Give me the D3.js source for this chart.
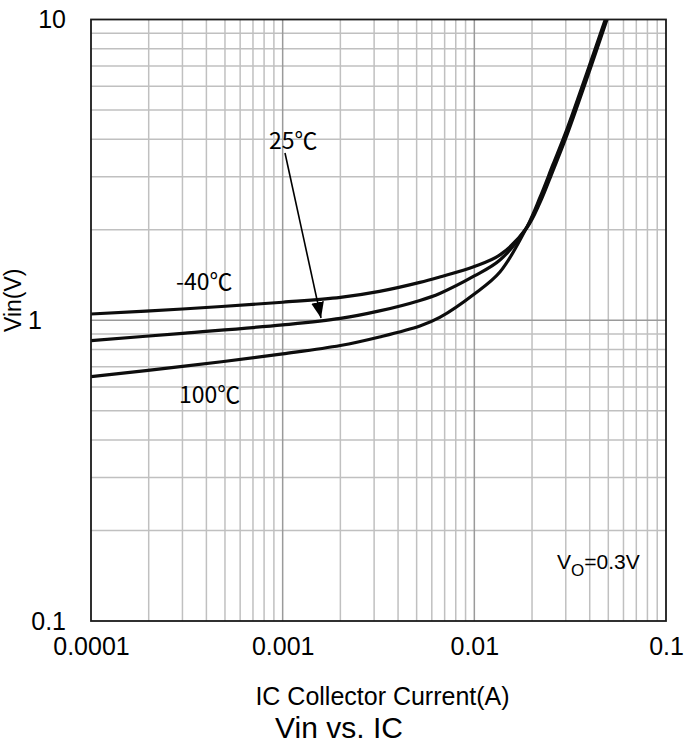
<!DOCTYPE html>
<html>
<head>
<meta charset="utf-8">
<script src="https://cdn.jsdelivr.net/npm/d3@7"></script>
<style>
  body { margin: 0; background: #fff; }
  svg text { font-family: "Liberation Sans", Arial, sans-serif; fill: #000; }
  .ann { font-family: "Noto Sans CJK JP", "DejaVu Sans", sans-serif; }
</style>
</head>
<body>
<svg id="chart" width="684" height="746"></svg>
<script>
// collector current (A) and input voltage (V) per temperature
const icM40 = [0.0001, 0.0003, 0.001, 0.002, 0.0032, 0.0052, 0.0066, 0.01, 0.0136, 0.0188, 0.022, 0.0257, 0.0303, 0.0385, 0.05];
const vinM40 = [1.049, 1.09, 1.148, 1.191, 1.247, 1.336, 1.393, 1.51, 1.649, 2.03, 2.46, 3.14, 4.10, 6.32, 10.3];
const ic25 = [0.0001, 0.0003, 0.001, 0.002, 0.0032, 0.0052, 0.0066, 0.01, 0.0136, 0.0188, 0.022, 0.0257, 0.0303, 0.0385, 0.05];
const vin25 = [0.855, 0.905, 0.965, 1.014, 1.074, 1.164, 1.228, 1.404, 1.586, 2.04, 2.51, 3.21, 4.19, 6.46, 10.5];
const ic100 = [0.0001, 0.0003, 0.001, 0.002, 0.0032, 0.0052, 0.0066, 0.01, 0.0136, 0.0188, 0.022, 0.0257, 0.0303, 0.0385, 0.05];
const vin100 = [0.649, 0.702, 0.773, 0.824, 0.880, 0.957, 1.022, 1.223, 1.447, 2.04, 2.56, 3.29, 4.29, 6.60, 10.7];

const xTicks = [0.0001, 0.001, 0.01, 0.1];
const yTicks = [0.1, 1, 10];
const seriesLabels = ["-40\u2103", "25\u2103", "100\u2103"];

const svg = d3.select("#chart");
const margin = { top: 19.5, right: 18, bottom: 125, left: 91 };
const width = +svg.attr("width") - margin.left - margin.right;
const height = +svg.attr("height") - margin.top - margin.bottom;

const g = svg.append("g")
    .attr("transform", "translate(" + margin.left + "," + margin.top + ")");

const x = d3.scaleLog().domain([0.0001, 0.1]).range([0, width]);
const y = d3.scaleLog().domain([0.1, 10]).range([height, 0]);

// minor + major grid
function gridValues(lo, hi) {
    const out = [];
    for (let e = Math.log10(lo); e < Math.log10(hi); e++) {
        for (let k = 2; k <= 9; k++) out.push(k * Math.pow(10, e));
    }
    return out;
}

g.append("g").selectAll("line")
    .data(gridValues(0.0001, 0.1))
    .enter().append("line")
    .attr("x1", d => x(d)).attr("x2", d => x(d))
    .attr("y1", 0).attr("y2", height)
    .attr("stroke", "#c0c0c0").attr("stroke-width", 1.5);

g.append("g").selectAll("line")
    .data(gridValues(0.1, 10))
    .enter().append("line")
    .attr("y1", d => y(d)).attr("y2", d => y(d))
    .attr("x1", 0).attr("x2", width)
    .attr("stroke", "#c0c0c0").attr("stroke-width", 1.5);

g.append("g").selectAll("line")
    .data(xTicks.slice(1, -1))
    .enter().append("line")
    .attr("x1", d => x(d)).attr("x2", d => x(d))
    .attr("y1", 0).attr("y2", height)
    .attr("stroke", "#9a9a9a").attr("stroke-width", 1.5);

g.append("g").selectAll("line")
    .data(yTicks.slice(1, -1))
    .enter().append("line")
    .attr("y1", d => y(d)).attr("y2", d => y(d))
    .attr("x1", 0).attr("x2", width)
    .attr("stroke", "#9a9a9a").attr("stroke-width", 1.5);

// axes (labels only)
const xAxis = g.append("g")
    .attr("transform", "translate(0," + height + ")")
    .call(d3.axisBottom(x).tickValues(xTicks).tickFormat(d3.format("~g")).tickSize(0).tickPadding(16));
const yAxis = g.append("g")
    .call(d3.axisLeft(y).tickValues(yTicks).tickFormat(d3.format("~g")).tickSize(0).tickPadding(25));
[xAxis, yAxis].forEach(a => {
    a.select(".domain").remove();
    a.selectAll("text").style("font-size", "25px").style("font-family", "\"Liberation Sans\", Arial, sans-serif");
});
yAxis.selectAll(".tick text").filter(d => d === 1).attr("x", -49);

// curves
g.append("clipPath").attr("id", "clip")
    .append("rect").attr("width", width).attr("height", height);

const line = d3.line()
    .x(d => x(d[0]))
    .y(d => y(d[1]))
    .curve(d3.curveCatmullRom.alpha(0.5));

const series = [d3.zip(icM40, vinM40), d3.zip(ic25, vin25), d3.zip(ic100, vin100)];
g.append("g").attr("clip-path", "url(#clip)")
    .selectAll("path")
    .data(series)
    .enter().append("path")
    .attr("d", line)
    .attr("fill", "none")
    .attr("stroke", "#0d0d0d")
    .attr("stroke-width", 3.2);

// frame
g.append("rect")
    .attr("width", width).attr("height", height)
    .attr("fill", "none").attr("stroke", "#1a1a1a").attr("stroke-width", 1.8);

// annotations
svg.append("defs").append("marker")
    .attr("id", "arrow")
    .attr("viewBox", "0 0 10 10")
    .attr("refX", 10).attr("refY", 5)
    .attr("markerWidth", 16).attr("markerHeight", 16)
    .attr("markerUnits", "userSpaceOnUse")
    .attr("orient", "auto")
    .append("path").attr("d", "M0,1 L10,5 L0,9 Z").attr("fill", "#000");

svg.append("line")
    .attr("x1", 285).attr("y1", 153)
    .attr("x2", 321).attr("y2", 318)
    .attr("stroke", "#000").attr("stroke-width", 1.6)
    .attr("marker-end", "url(#arrow)");

svg.append("text").attr("class", "ann").attr("x", 269).attr("y", 149)
    .style("font-size", "23px").text(seriesLabels[1]);
svg.append("text").attr("class", "ann").attr("x", 176).attr("y", 290)
    .style("font-size", "23px").text(seriesLabels[0]);
svg.append("text").attr("class", "ann").attr("x", 179).attr("y", 403)
    .style("font-size", "23px").text(seriesLabels[2]);

const vo = svg.append("text").attr("x", 557).attr("y", 569).style("font-size", "21px");
vo.append("tspan").text("V");
vo.append("tspan").attr("dy", 7).style("font-size", "17px").text("O");
vo.append("tspan").attr("dy", -7).text("=0.3V");

// axis titles
svg.append("text")
    .attr("x", margin.left + width / 2 + 4).attr("y", 705)
    .attr("text-anchor", "middle").style("font-size", "25px")
    .text("IC Collector Current(A)");
svg.append("text")
    .attr("transform", "translate(21," + (margin.top + y(1) - 20) + ") rotate(-90)")
    .attr("text-anchor", "middle").style("font-size", "23px")
    .text("Vin(V)");
svg.append("text")
    .attr("x", 339).attr("y", 738)
    .attr("text-anchor", "middle").style("font-size", "30px")
    .text("Vin vs. IC");
</script>
</body>
</html>
